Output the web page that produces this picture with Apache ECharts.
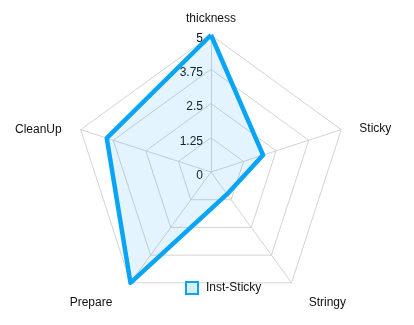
<!DOCTYPE html>
<html>
<head>
<meta charset="utf-8">
<script src="https://cdn.jsdelivr.net/npm/echarts@6/dist/echarts.min.js"></script>
<style>html,body{margin:0;padding:0;background:#fff}#c{width:414px;height:325px}</style>
</head>
<body>
<div id="c"></div>
<script>
var indicatorNames = ['thickness', 'Sticky', 'Stringy', 'Prepare', 'CleanUp'];
var indicatorMax = 5;
var seriesName = 'Inst-Sticky';
var seriesValues = [5, 2, 1, 5, 4];

// ECharts lays indicators counter-clockwise; the reference runs clockwise.
var order = [0, 4, 3, 2, 1];
// per-indicator name placement (gap from vertex, rich style key)
var nameGaps = {thickness: 10, Sticky: 19, Stringy: 24, Prepare: 24, CleanUp: 20};
var nameStyleKey = {thickness: 'n', Sticky: 'side', Stringy: 'br', Prepare: 'bl', CleanUp: 'side2'};

var chart = echarts.init(document.getElementById('c'), null, {renderer: 'canvas'});
var font = 'Helvetica, Arial, "Liberation Sans", sans-serif';
var txt = {color: '#111', fontSize: 12, fontFamily: font};
chart.setOption({
  animation: false,
  backgroundColor: '#fff',
  legend: {
    data: [{name: seriesName, icon: 'rect'}],
    left: 180, top: 276,
    itemWidth: 12, itemHeight: 12, itemGap: 8,
    itemStyle: {color: '#d6eefc', borderColor: '#0aa5f5', borderWidth: 2},
    textStyle: Object.assign({padding: [0, 0, 0, 3]}, txt)
  },
  radar: {
    center: [211, 172],
    radius: 137,
    shape: 'polygon',
    splitNumber: 4,
    startAngle: 90,
    indicator: order.map(function (k, i) {
      var n = indicatorNames[k];
      var o = {name: n, min: 0, max: indicatorMax, nameGap: nameGaps[n]};
      if (i === 0) o.axisLabel = {show: true};
      return o;
    }),
    axisName: {
      color: '#111', fontSize: 12, fontFamily: font,
      formatter: function (v) { return '{' + nameStyleKey[v] + '|' + v + '}'; },
      rich: {
        n: txt,
        side: Object.assign({padding: [10, 0, 0, 0]}, txt),
        side2: Object.assign({padding: [12, 0, 0, 0]}, txt),
        br: Object.assign({padding: [0, 0, 0, 3]}, txt),
        bl: Object.assign({padding: [0, 4, 0, 0]}, txt)
      }
    },
    axisLabel: {show: false, color: '#111', fontSize: 12, fontFamily: font,
      align: 'right', margin: 0, padding: [0, 8, 0, 0],
      formatter: function (v) { return '{t|' + v + '}'; },
      rich: {t: Object.assign({padding: [7, 0, 0, 0]}, txt)}},
    axisLine: {lineStyle: {color: '#d4d4d4', width: 1}},
    splitLine: {lineStyle: {color: '#d4d4d4', width: 1}},
    splitArea: {show: false},
    axisTick: {show: false}
  },
  series: [{
    type: 'radar',
    name: seriesName,
    symbol: 'none',
    lineStyle: {color: '#0aa5f5', width: 4.5},
    itemStyle: {color: '#0aa5f5'},
    areaStyle: {color: 'rgba(10,160,245,0.16)'},
    data: [{name: seriesName, value: order.map(function (k) { return seriesValues[k]; })}]
  }]
});
</script>
</body>
</html>
